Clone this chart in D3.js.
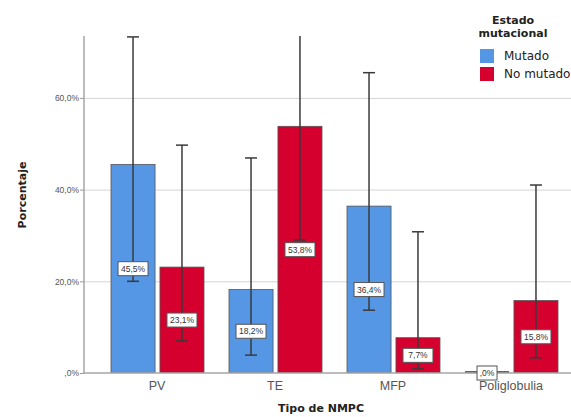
<!DOCTYPE html>
<html>
<head>
<meta charset="utf-8">
<script src="https://cdn.jsdelivr.net/npm/d3@7"></script>
<style>
  body { margin: 0; background: #fff; }
  svg { display: block; }
</style>
</head>
<body>
<div id="chart"></div>
<script>
// data
var categories = ["PV", "TE", "MFP", "Poliglobulia"];
var series = ["Mutado", "No mutado"];
var mutado = [45.5, 18.2, 36.4, 0];
var noMutado = [23.1, 53.8, 7.7, 15.8];
var mutadoLow = [20.0, 3.9, 13.7, 0];
var mutadoHigh = [73.3, 46.9, 65.5, 0];
var noMutadoLow = [7.0, 29.0, 0.9, 3.3];
var noMutadoHigh = [49.7, 80.0, 30.8, 41.0];
var yTicks = [0, 20, 40, 60];
var colors = ["#5596e5", "#d6002f"];

var svgWidth = 571, svgHeight = 417;
var plot = { left: 84, top: 36, bottom: 373, right: 571 };

var svg = d3.select("#chart").append("svg")
  .attr("width", svgWidth)
  .attr("height", svgHeight);

var fmt = function (v) {
  var s = v.toFixed(1).replace(".", ",");
  if (s.indexOf("0,") === 0) s = s.slice(1);
  return (v === 0 ? ",0" : s) + "%";
};

// scales
var x = d3.scaleBand().domain(categories).range([98, 570]);
var xSub = d3.scaleBand().domain(series).range([13, 106]).paddingInner(0.1);
var y = d3.scaleLinear().domain([0, 73.5]).range([plot.bottom, plot.top]);

// rows
var rows = [];
categories.forEach(function (c, i) {
  rows.push({ cat: c, s: series[0], v: mutado[i], lo: mutadoLow[i], hi: mutadoHigh[i], col: colors[0] });
  rows.push({ cat: c, s: series[1], v: noMutado[i], lo: noMutadoLow[i], hi: noMutadoHigh[i], col: colors[1] });
});

svg.append("clipPath").attr("id", "clip")
  .append("rect")
  .attr("x", plot.left).attr("y", plot.top)
  .attr("width", plot.right - plot.left).attr("height", plot.bottom - plot.top);

// gridlines
svg.append("g").selectAll("line")
  .data(yTicks.filter(function (d) { return d > 0; }))
  .enter().append("line")
  .attr("x1", plot.left).attr("x2", plot.right)
  .attr("y1", function (d) { return y(d) + 0.5; })
  .attr("y2", function (d) { return y(d) + 0.5; })
  .attr("stroke", "#d4d4d4").attr("stroke-width", 1);

// y axis
var yAxis = svg.append("g")
  .attr("transform", "translate(" + plot.left + ",0)")
  .call(d3.axisLeft(y).tickValues(yTicks).tickSize(4).tickFormat(fmt));
yAxis.select(".domain").remove();
yAxis.selectAll(".tick line").attr("stroke", "#999");
yAxis.selectAll("text")
  .attr("font-family", "Liberation Sans, Arial, sans-serif")
  .attr("font-size", "8.5px").attr("fill", "#555").attr("x", -5);

svg.append("line")
  .attr("x1", plot.left).attr("x2", plot.left)
  .attr("y1", plot.top).attr("y2", plot.bottom)
  .attr("stroke", "#a6a6a6").attr("stroke-width", 1.5);

// bars
var bars = svg.append("g").attr("clip-path", "url(#clip)");
bars.selectAll("rect")
  .data(rows)
  .enter().append("rect")
  .attr("x", function (d) { return x(d.cat) + xSub(d.s); })
  .attr("y", function (d) { return y(d.v); })
  .attr("width", xSub.bandwidth())
  .attr("height", function (d) { return Math.max(0.5, y(0) - y(d.v)); })
  .attr("fill", function (d) { return d.col; })
  .attr("stroke", "#555").attr("stroke-width", 0.8);

// x axis line
svg.append("line")
  .attr("x1", plot.left).attr("x2", plot.right)
  .attr("y1", plot.bottom).attr("y2", plot.bottom)
  .attr("stroke", "#a6a6a6").attr("stroke-width", 1.5);

// zero-height bars drawn as a flat line
bars.selectAll("line.zero")
  .data(rows.filter(function (d) { return d.v === 0; }))
  .enter().append("line")
  .attr("class", "zero")
  .attr("x1", function (d) { return x(d.cat) + xSub(d.s); })
  .attr("x2", function (d) { return x(d.cat) + xSub(d.s) + xSub.bandwidth(); })
  .attr("y1", y(0) - 1).attr("y2", y(0) - 1)
  .attr("stroke", "#333").attr("stroke-width", 1.5);

// error bars
var err = svg.append("g").attr("clip-path", "url(#clip)")
  .selectAll("g")
  .data(rows.filter(function (d) { return d.hi > d.lo; }))
  .enter().append("g")
  .attr("transform", function (d) {
    return "translate(" + (x(d.cat) + xSub(d.s) + xSub.bandwidth() / 2) + ",0)";
  });
err.append("line")
  .attr("y1", function (d) { return y(d.lo); })
  .attr("y2", function (d) { return y(d.hi); })
  .attr("stroke", "#3a3a3a").attr("stroke-width", 1.5);
err.selectAll("line.cap")
  .data(function (d) { return [d.lo, d.hi]; })
  .enter().append("line")
  .attr("class", "cap")
  .attr("x1", -6).attr("x2", 6)
  .attr("y1", function (v) { return y(v); })
  .attr("y2", function (v) { return y(v); })
  .attr("stroke", "#3a3a3a").attr("stroke-width", 1.5);

// value labels
var lab = svg.append("g").selectAll("g")
  .data(rows)
  .enter().append("g")
  .attr("transform", function (d) {
    return "translate(" + (x(d.cat) + xSub(d.s) + xSub.bandwidth() / 2) + "," + y(d.v / 2) + ")";
  });
lab.append("rect")
  .attr("x", function (d) { return d.v === 0 ? -10 : -15; })
  .attr("y", -7)
  .attr("width", function (d) { return d.v === 0 ? 20 : 30; })
  .attr("height", 14)
  .attr("fill", "#fff").attr("stroke", "#555").attr("stroke-width", 1);
lab.append("text")
  .attr("text-anchor", "middle").attr("dy", "0.35em")
  .attr("font-family", "Liberation Sans, Arial, sans-serif")
  .attr("font-size", "8.5px").attr("fill", "#333")
  .text(function (d) { return fmt(d.v); });

// category labels
svg.append("g").selectAll("text")
  .data(categories)
  .enter().append("text")
  .attr("x", function (d) { return x(d) + x.bandwidth() / 2; })
  .attr("y", 390)
  .attr("text-anchor", "middle")
  .attr("font-family", "Liberation Sans, Arial, sans-serif")
  .attr("font-size", "12.5px").attr("fill", "#555")
  .text(function (d) { return d; });

// axis titles
svg.append("text")
  .attr("x", 321).attr("y", 412)
  .attr("text-anchor", "middle")
  .attr("font-family", "DejaVu Sans, sans-serif")
  .attr("font-weight", "bold").attr("font-size", "11px").attr("fill", "#222")
  .text("Tipo de NMPC");

svg.append("text")
  .attr("transform", "translate(26,195) rotate(-90)")
  .attr("text-anchor", "middle")
  .attr("font-family", "DejaVu Sans, sans-serif")
  .attr("font-weight", "bold").attr("font-size", "11px").attr("fill", "#222")
  .text("Porcentaje");

// legend
var legend = svg.append("g");
legend.append("text")
  .attr("x", 513).attr("y", 24)
  .attr("text-anchor", "middle")
  .attr("font-family", "DejaVu Sans, sans-serif")
  .attr("font-weight", "bold").attr("font-size", "11px").attr("fill", "#222")
  .text("Estado");
legend.append("text")
  .attr("x", 513).attr("y", 37)
  .attr("text-anchor", "middle")
  .attr("font-family", "DejaVu Sans, sans-serif")
  .attr("font-weight", "bold").attr("font-size", "11px").attr("fill", "#222")
  .text("mutacional");
var li = legend.selectAll("g.item")
  .data(series)
  .enter().append("g")
  .attr("class", "item")
  .attr("transform", function (d, i) { return "translate(480," + (49 + i * 18) + ")"; });
li.append("rect")
  .attr("width", 14).attr("height", 14)
  .attr("fill", function (d, i) { return colors[i]; });
li.append("text")
  .attr("x", 24).attr("y", 11)
  .attr("font-family", "DejaVu Sans, sans-serif")
  .attr("font-size", "12px").attr("fill", "#222")
  .text(function (d) { return d; });
</script>
</body>
</html>
